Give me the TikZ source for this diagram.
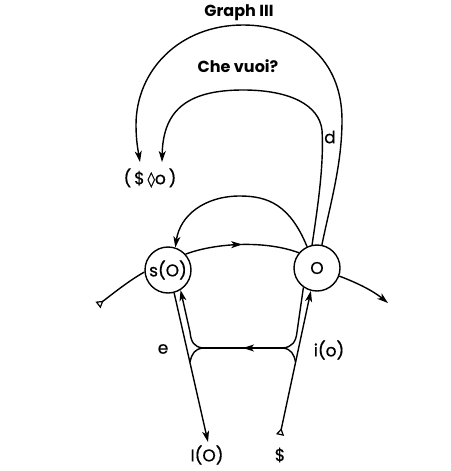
\documentclass[tikz,border=0pt]{standalone}
\usepackage{fontspec}
\setmainfont{Poppins}
\newfontfamily\lblfont{Poppins}[FakeBold=0.5]
\newfontfamily\dejavu{DejaVu Sans}[FakeBold=0.5]
\usetikzlibrary{arrows.meta,decorations.markings}
\begin{document}
\begin{tikzpicture}[x=1pt,y=-1pt,
  line width=1.4pt,
  tip/.style={-{Stealth[length=11pt,width=7pt,inset=3pt]}},
  tail/.style={{Triangle[open,reversed,length=7pt,width=8pt,line width=1.2pt]}-},
  tailtip/.style={{Triangle[open,reversed,length=7pt,width=8pt,line width=1.2pt]}-{Stealth[length=11pt,width=7pt,inset=3pt]}},
  midarrow/.style={postaction={decorate},decoration={markings,mark=at position 0.5 with {\arrow{Stealth[length=11pt,width=7pt,inset=3pt]}}}},
  circ/.style={circle,draw,minimum size=46pt,inner sep=0pt,font=\lblfont\fontsize{17}{17}\selectfont},
  lab/.style={font=\lblfont\fontsize{17}{17}\selectfont,inner sep=0pt},
  ttl/.style={font=\fontsize{16}{16}\selectfont\bfseries,inner sep=0pt}]
\useasboundingbox (0,0) rectangle (450,471);
\node[ttl] (g3) at (239,13) {Graph III};
\node[ttl] (cv) at (238,66) {Che vuoi?};
\node[lab] (d) at (330,137) {d};
\node[lab] (fant) at (150,178) {(\,\$\,{\dejavu\fontsize{15}{15}\selectfont ◊}o\,)};
\node[circ] (sO) at (168,270) {s(O)};
\node[circ] (O) at (317,268) {O};
\node[lab] (e) at (163,349) {e};
\node[lab] (io) at (329,350) {i(o)};
\node[lab] (IO) at (207,455) {I(O)};
\node[lab] (S) at (280,455) {\$};
\coordinate (lt) at (98,305);
\coordinate (rt) at (388,303);
\coordinate (st) at (280,435);
\coordinate (it) at (208,442);
\coordinate (ct) at (140,162);
\coordinate (ct2) at (162,162);
\coordinate (cl) at (203,348);
\coordinate (cr) at (283,348);
% upper arcs
\draw[tip] (O.78) .. controls (330,205) and (342,165) .. (342,120)
  .. controls (342,60) and (300,25) .. (243,25)
  .. controls (180,25) and (136,70) .. (136,125)
  .. controls (136,140) and (138,150) .. (ct);
\draw[tip] (O.102) .. controls (318,205) and (324,165) .. (322,130)
  .. controls (319,105) and (290,90) .. (243,90)
  .. controls (185,90) and (163,112) .. (ct2);
\draw[tip] (O.115) .. controls (290,205) and (268,196) .. (240,196)
  .. controls (205,196) and (180,215) .. (sO.72);
\draw[midarrow] (sO.42) .. controls (215,243) and (265,240) .. (O.140);
% side lines
\draw[tail] (lt) .. controls (115,292) and (130,280) .. (sO.185);
\draw[tip] (O.-20) .. controls (355,282) and (372,290) .. (rt);
% lower structure
\draw[tip] (sO.-75) -- (it);
\draw[tailtip] (st) -- (O.-105);
\draw[midarrow] (cr) -- (cl);
\draw[tip] (cl) .. controls (194,347) and (191,342) .. (190,332) -- (sO.-58);
\draw (cl) .. controls (195,349) and (192,353) .. (190,362);
\draw (cr) .. controls (292,347) and (296,342) .. (297,332) -- (O.-125);
\draw (cr) .. controls (291,349) and (294,354) .. (295.5,362);
\end{tikzpicture}
\end{document}
